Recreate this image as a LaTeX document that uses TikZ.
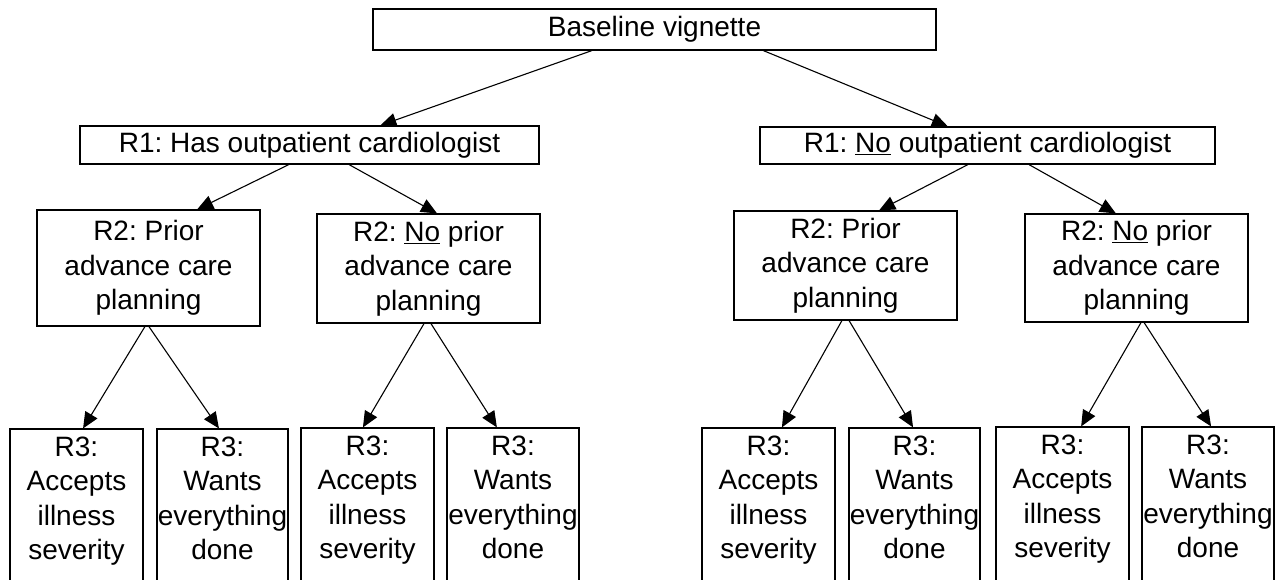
\documentclass[tikz,border=0pt]{standalone}
\usepackage{fontspec}
\setmainfont{Liberation Sans}
\usetikzlibrary{arrows.meta,calc}
\begin{document}
\frenchspacing
\begin{tikzpicture}[x=1pt,y=-1pt,
  box/.style={draw=black, line width=1.2pt, inner sep=0pt, align=center,
              font=\fontsize{28}{34.5}\selectfont},
  leaf/.style={draw=black, line width=1.2pt, inner sep=0pt, minimum height=212pt},
  leaftext/.style={inner sep=0pt, align=center, anchor=north,
              font=\fontsize{28}{34.3}\selectfont},
  arr/.style={line width=1.1pt, -{Triangle[length=16pt,width=14pt]}}]
\clip (0,0) rectangle (1275,579);
\fill[white] (0,0) rectangle (1275,579);
% level 0
\node[box, minimum width=563pt, minimum height=41pt] (base) at (654.5,29.5) {Baseline vignette};
% level 1
\node[box, minimum width=459pt, minimum height=38pt] (r1l) at (309.5,145) {R1: Has outpatient cardiologist};
\node[box, minimum width=455pt, minimum height=37pt] (r1r) at (987.5,145.5) {R1: \underline{No} outpatient cardiologist};
% level 2
\node[box, minimum width=223pt, minimum height=116pt] (r2ll) at (148.5,268) {R2: Prior\\advance care\\planning};
\node[box, minimum width=223pt, minimum height=109pt] (r2lr) at (428.5,268.5) {R2: \underline{No} prior\\advance care\\planning};
\node[box, minimum width=223pt, minimum height=109pt] (r2rl) at (845.5,265.5) {R2: Prior\\advance care\\planning};
\node[box, minimum width=223pt, minimum height=108pt] (r2rr) at (1136.5,268) {R2: \underline{No} prior\\advance care\\planning};
% level 3 boxes (bottoms cut off by the picture edge)
\node[leaf, minimum width=133pt] (r3a) at (76.5,535) {};
\node[leaf, minimum width=131pt] (r3b) at (222.5,535) {};
\node[leaf, minimum width=133pt] (r3c) at (367.5,534) {};
\node[leaf, minimum width=132pt] (r3d) at (513,534) {};
\node[leaf, minimum width=133pt] (r3e) at (768.5,534) {};
\node[leaf, minimum width=131pt] (r3f) at (914.5,534) {};
\node[leaf, minimum width=133pt] (r3g) at (1062.5,533) {};
\node[leaf, minimum width=132pt] (r3h) at (1208,533) {};
% level 3 texts
\node[leaftext] (t3a) at ($(r3a.north)+(0,8.5)$) {R3:\\Accepts\\illness\\severity};
\node[leaftext] (t3b) at ($(r3b.north)+(0,8.5)$) {R3:\\Wants\\everything\\done};
\node[leaftext] (t3c) at ($(r3c.north)+(0,8.5)$) {R3:\\Accepts\\illness\\severity};
\node[leaftext] (t3d) at ($(r3d.north)+(0,8.5)$) {R3:\\Wants\\everything\\done};
\node[leaftext] (t3e) at ($(r3e.north)+(0,8.5)$) {R3:\\Accepts\\illness\\severity};
\node[leaftext] (t3f) at ($(r3f.north)+(0,8.5)$) {R3:\\Wants\\everything\\done};
\node[leaftext] (t3g) at ($(r3g.north)+(0,8.5)$) {R3:\\Accepts\\illness\\severity};
\node[leaftext] (t3h) at ($(r3h.north)+(0,8.5)$) {R3:\\Wants\\everything\\done};
% connectors level 0 -> 1
\draw[arr] ($(base.south west)!0.389!(base.south east)$) -- ($(r1l.north west)!0.654!(r1l.north east)$);
\draw[arr] ($(base.south west)!0.693!(base.south east)$) -- ($(r1r.north west)!0.413!(r1r.north east)$);
% level 1 -> 2
\draw[arr] ($(r1l.south west)!0.455!(r1l.south east)$) -- ($(r2ll.north west)!0.717!(r2ll.north east)$);
\draw[arr] ($(r1l.south west)!0.586!(r1l.south east)$) -- ($(r2lr.north west)!0.538!(r2lr.north east)$);
\draw[arr] ($(r1r.south west)!0.457!(r1r.south east)$) -- ($(r2rl.north west)!0.650!(r2rl.north east)$);
\draw[arr] ($(r1r.south west)!0.591!(r1r.south east)$) -- ($(r2rr.north west)!0.408!(r2rr.north east)$);
% level 2 -> 3
\draw[arr] ($(r2ll.south west)!0.484!(r2ll.south east)$) -- ($(r3a.north west)!0.549!(r3a.north east)$);
\draw[arr] ($(r2ll.south west)!0.502!(r2ll.south east)$) -- ($(r3b.north west)!0.473!(r3b.north east)$);
\draw[arr] ($(r2lr.south west)!0.480!(r2lr.south east)$) -- ($(r3c.north west)!0.466!(r3c.north east)$);
\draw[arr] ($(r2lr.south west)!0.511!(r2lr.south east)$) -- ($(r3d.north west)!0.379!(r3d.north east)$);
\draw[arr] ($(r2rl.south west)!0.484!(r2rl.south east)$) -- ($(r3e.north west)!0.600!(r3e.north east)$);
\draw[arr] ($(r2rl.south west)!0.516!(r2rl.south east)$) -- ($(r3f.north west)!0.489!(r3f.north east)$);
\draw[arr] ($(r2rr.south west)!0.520!(r2rr.south east)$) -- ($(r3g.north west)!0.639!(r3g.north east)$);
\draw[arr] ($(r2rr.south west)!0.534!(r2rr.south east)$) -- ($(r3h.north west)!0.523!(r3h.north east)$);
\end{tikzpicture}
\end{document}
